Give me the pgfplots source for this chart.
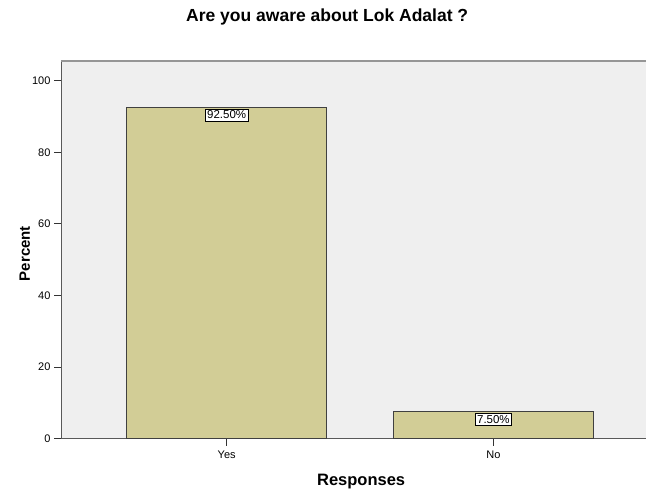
\documentclass[border=0pt]{standalone}
\usepackage{pgfplots}
\pgfplotsset{compat=1.18}
\usepackage{fontspec}
\setmainfont{Liberation Sans}

\definecolor{barfill}{RGB}{210,205,150}
\definecolor{plotbg}{RGB}{239,239,239}
\definecolor{frameline}{RGB}{150,150,150}

\begin{document}
\begin{tikzpicture}
\path[use as bounding box] (0pt,0pt) rectangle (646pt,488pt);
\begin{axis}[
  at={(61pt,49.3pt)}, anchor=south west,
  scale only axis,
  width=585pt, height=377.7pt,
  xmin=-0.621, xmax=1.572,
  ymin=0, ymax=105.5,
  axis lines*=left,
  axis line style={draw=black!65, line width=0.9pt},
  axis background/.style={fill=plotbg},
  ytick={0,20,40,60,80,100},
  xtick={0,1},
  xticklabels={Yes,No},
  tick align=outside,
  major tick length=7pt,
  tick style={black!80, line width=0.8pt},
  /pgf/number format/assume math mode=true,
  ticklabel style={font=\fontsize{11}{13}\selectfont},
  xticklabel style={yshift=-2pt},
  ybar,
  bar width=0.75,
  title={Are you aware about Lok Adalat ?},
  title style={at={(axis description cs:0.455,1)}, anchor=center, yshift=38pt,
    font=\fontsize{17.5}{20}\selectfont\bfseries},
  xlabel={Responses},
  xlabel style={at={(axis description cs:0.513,0)}, anchor=center, yshift=-43pt,
    font=\fontsize{16.5}{19}\selectfont\bfseries},
  ylabel={Percent},
  ylabel style={at={(axis description cs:-0.062,0.49)}, anchor=center,
    font=\fontsize{15}{18}\selectfont\bfseries},
  nodes near coords={\pgfmathprintnumber[fixed,fixed zerofill,precision=2]{\pgfplotspointmeta}\%},
  nodes near coords style={anchor=north, yshift=-1pt, fill=white, draw=black,
    inner xsep=2pt, inner ysep=2pt, line width=0.6pt, font=\fontsize{11.5}{12}\selectfont},
  clip=false,
]
\addplot[fill=barfill, draw=black!75, line width=0.8pt]
  coordinates {(0,92.5) (1,7.5)};
\draw[frameline, line width=1.2pt] (rel axis cs:0,1) -- (rel axis cs:1,1);
\end{axis}
\end{tikzpicture}
\end{document}
